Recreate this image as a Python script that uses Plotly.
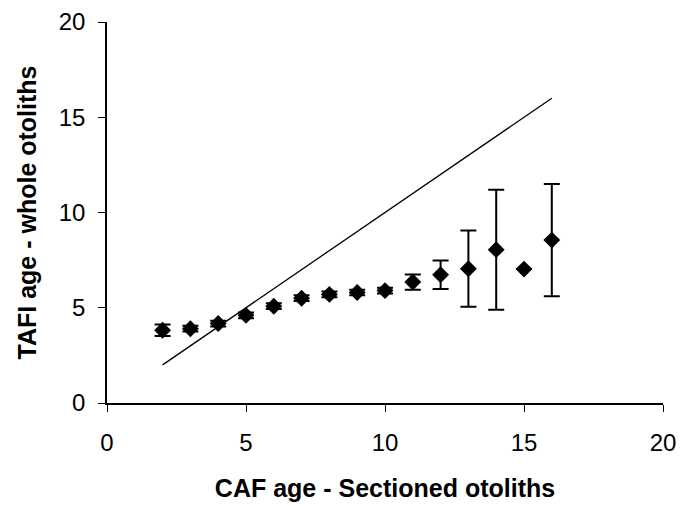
import plotly.graph_objects as go

caf_age = [2, 3, 4, 5, 6, 7, 8, 9, 10, 11, 12, 13, 14, 15, 16]
tafi_mean = [3.82, 3.9, 4.17, 4.6, 5.08, 5.5, 5.7, 5.8, 5.9, 6.35, 6.73, 7.05, 8.05, 7.03, 8.55]
tafi_err = [0.3, 0.15, 0.15, 0.15, 0.15, 0.15, 0.15, 0.15, 0.15, 0.4, 0.75, 2.0, 3.15, 0.0, 2.95]
line_x = [2, 16]
line_y = [2, 16]

fig = go.Figure()
fig.add_trace(go.Scatter(x=line_x, y=line_y, mode="lines",
                         line=dict(color="black", width=1.3), showlegend=False))
fig.add_trace(go.Scatter(x=caf_age, y=tafi_mean, mode="markers",
                         marker=dict(symbol="diamond", size=13, color="black"),
                         error_y=dict(type="data", array=tafi_err, color="black",
                                      thickness=2, width=8),
                         showlegend=False))

font = "Liberation Sans, Arial, sans-serif"
fig.update_layout(
    width=680, height=506,
    margin=dict(l=107, r=17, t=22, b=103),
    paper_bgcolor="white", plot_bgcolor="white",
    font=dict(family=font, color="black", size=24),
    xaxis=dict(range=[0, 20], tickvals=[0, 5, 10, 15, 20], showgrid=False, zeroline=False,
               showline=True, linecolor="black", linewidth=1.5, automargin=False,
               ticks="outside", ticklen=7, tickcolor="black",
               tickfont=dict(size=24), ticklabelstandoff=10,
               title=dict(text="<b>CAF age - Sectioned otoliths</b>", font=dict(size=25), standoff=25)),
    yaxis=dict(range=[0, 20], tickvals=[0, 5, 10, 15, 20], showgrid=False, zeroline=False,
               showline=True, linecolor="black", linewidth=1.5, automargin=False,
               ticks="outside", ticklen=7, tickcolor="black",
               tickfont=dict(size=24), ticklabelstandoff=8,
               title=dict(text="<b>TAFI age - whole otoliths</b>", font=dict(size=25), standoff=15)),
)
fig.write_html("out.html")
